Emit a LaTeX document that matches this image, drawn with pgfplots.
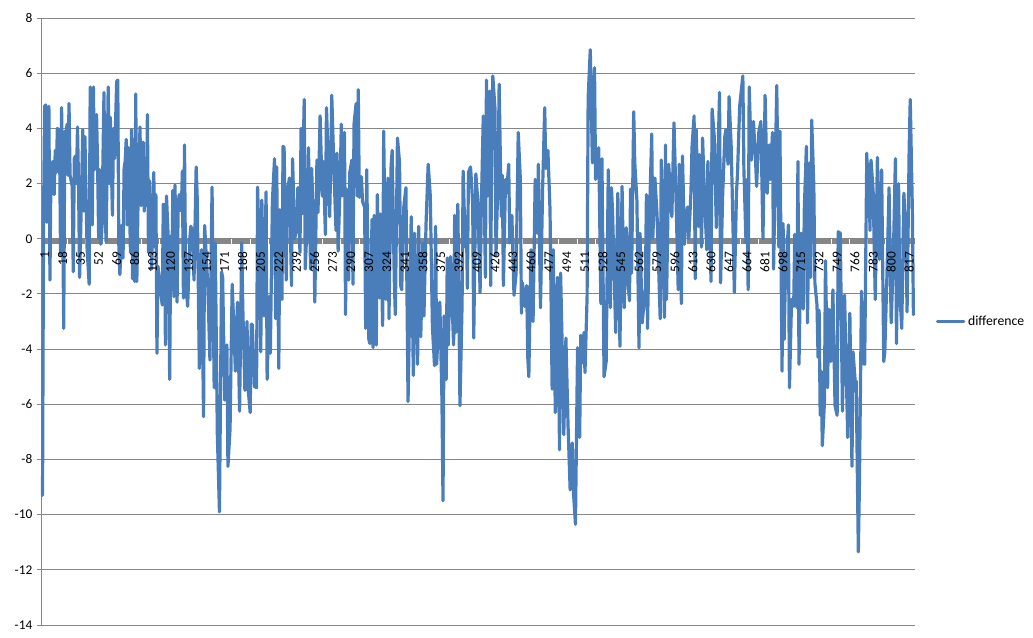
\documentclass[border=0pt]{standalone}
\usepackage{pgfplots}
\pgfplotsset{compat=1.18}
\usepackage{fontspec}
\setmainfont{Carlito}
\definecolor{linecol}{HTML}{4A7EBB}
\definecolor{axcol}{HTML}{868686}
\pgfplotsset{frame/.style={
    at={(31.5pt,9pt)}, anchor=south west,
    scale only axis, width=654.75pt, height=455.25pt,
    xmin=0.5, xmax=824.5, ymin=-14, ymax=8,
    tick label style={font=\fontsize{10}{12}\selectfont, black},
    /pgf/number format/assume math mode=true,
    clip=false,
}}
\begin{document}
\begin{tikzpicture}
% 1 px of the reference = 0.75pt
\useasboundingbox (0,0) rectangle (774.75pt,477.75pt);
\begin{axis}[
    frame,
    axis x line=middle, axis y line=left,
    axis line style={-, axcol, line width=0.75pt},
    tick align=outside,
    ytick={-14,-12,...,8},
    xtick={1,18,...,817}, xticklabels={},
    minor xtick={1,2,...,24,26,27,...,41,43,44,...,58,60,61,...,75,77,78,...,93,95,96,...,110,112,113,...,127,129,130,...,144,146,147,...,161,163,164,...,178,180,181,...,196,198,199,...,213,215,216,...,230,232,233,...,247,249,250,...,264,266,267,...,281,283,284,...,299,301,302,...,316,318,319,...,333,335,336,...,350,352,353,...,367,369,370,...,384,386,387,...,402,404,405,...,419,421,422,...,436,438,439,...,453,455,456,...,470,472,473,...,487,489,490,...,505,507,508,...,522,524,525,...,539,541,542,...,556,558,559,...,573,575,576,...,590,592,593,...,608,610,611,...,625,627,628,...,642,644,645,...,659,661,662,...,676,678,679,...,693,695,696,...,711,713,714,...,728,730,731,...,745,747,748,...,762,764,765,...,779,781,782,...,796,798,799,...,814,816,817,...,824},
    major tick length=3.75pt, minor tick length=3.75pt,
    major x tick style={draw=none},
    minor tick style={axcol, line width=0.8pt},
    ytick style={axcol, line width=0.75pt},
    ymajorgrids, grid style={axcol, line width=0.75pt},
    legend style={at={(1.0235,0.4995)}, anchor=west, draw=none, fill=none,
        font=\fontsize{10.3}{12}\selectfont, inner sep=0pt, row sep=0pt},
    legend cell align=left,
    legend image code/.code={\draw[#1, line width=2.25pt] (0pt,0pt) -- (20pt,0pt);},
]
\addplot[linecol, line width=2.4pt, line join=round, line cap=round] coordinates {
(1,-9.3)(2,1.0)(3,4.8)(4,4.85)(5,0.6)(6,2.0)(7,4.8)(8,-1.5)(9,2.7)(11,2.8)(12,1.6)(13,3.2)(14,2.4)(15,4.0)(17,3.9)(18,-0.6)(19,4.75)(20,1)(21,-3.25)(22,3.9)(23,2.4)(24,4.15)(25,2.3)(26,4.9)(27,2.3)(29,1.9)(30,-1.2)(31,2.9)(32,3.0)(33,2.0)(34,4.05)(35,2.0)(36,-1.4)(37,0.2)(39,3.95)(40,1.0)(41,3.7)(43,-0.3)(45,-1.65)(46,5.5)(47,1.0)(48,0.5)(49,5.5)(50,2.5)(52,4.5)(53,2.6)(54,0.0)(55,2.5)(56,-0.2)(57,0.3)(59,5.3)(60,1.2)(61,-0.1)(63,5.5)(64,2.0)(65,4.4)(67,0.85)(68,4.0)(69,2.9)(71,5.7)(72,5.75)(73,-0.2)(74,-1.3)(76,0.5)(77,-0.7)(78,2.55)(79,2.8)(80,3.6)(81,0.5)(82,3.3)(84,-0.5)(85,3.95)(86,-1.45)(87,3.6)(88,-1.55)(89,5.25)(90,-1.55)(91,1)(93,4.05)(94,1.2)(96,3.5)(97,1)(98,2.1)(99,1.2)(100,4.5)(101,-0.5)(102,2.1)(104,-1.1)(105,0.5)(106,2.4)(107,-0.3)(108,1.6)(109,-4.15)
(110,-1.0)(112,-1.8)(114,-2.4)(115,1.25)(116,1.2)(117,-3.85)(118,1.55)(120,-0.3)(121,-5.1)(122,0.1)(123,-1.4)(124,1.75)(125,-2.1)(126,1.95)(128,-2.3)(129,1.2)(130,1.6)(132,1.0)(133,2.45)(134,-2.15)(135,3.4)(136,-1.2)(137,-2)(138,-2.45)(140,0)(141,0.45)(142,0.35)(144,-1.5)(146,2.6)(147,1.5)(149,-4.7)(151,-0.4)
(153,-6.45)(154,0.48)(157,-1.7)(159,-4.4)(161,1.87)(163,-5.4)(164,-0.15)(166,-7.1)(168,-9.9)(170,-1.2)(171,-1.4)(173,-5.85)(175,-3.85)(176,-8.25)(178,-6.9)(180,-1.65)(182,-3.65)(183,-4.8)(185,-2.3)(187,-6.25)(189,-0.15)(190,-2.45)(192,-5.5)(194,-3)(195,-5.4)(197,-6.3)(198,-3.1)(199,-3.1)(201,-5.35)(203,-5.4)(204,1.87)(206,-1.1)(207,-4.1)(208,1.4)(210,-2.8)(212,1.7)(213,-5.1)(215,-2.1)(216,-4.15)(218,1.4)(220,2.9)(221,-2.9)(222,2.6)(224,-4.7)(225,1.05)(227,-2.2)(228,3.35)(229,3.3)(231,-1.5)(232,1.65)(234,2.2)(236,-1.7)(237,2.9)(239,0)(241,0.4)(242,1.85)(244,-0.5)(245,4.0)(246,0.9)(248,5.05)(249,-1.1)(251,0.9)(252,3.3)(254,-1.1)(255,2.55)(257,0.2)(258,-2.3)(260,2.85)(261,0.95)(263,4.45)(265,1.55)(266,2.8)(268,0.15)(269,4.75)(270,3.6)(272,0.8)(273,2.6)(274,5.2)(276,2.55)(278,0.3)(279,3.1)(280,-0.45)(282,2.15)(283,4.15)(284,1.55)(286,3.85)(287,-2.75)(288,1.8)(290,-1.5)(291,2.4)(293,2.85)(294,-1.65)(295,4.15)(297,4.9)(298,1.55)(299,5.4)(300,1.5)(302,2.25)(303,1.35)(305,1.15)(306,-3.25)(307,2.5)(309,-3.65)(310,-3.8)(312,0.7)(313,-3.95)(314,0.85)(316,-3.85)(317,1.6)(319,-2.15)(320,0.9)(322,-3.15)(323,3.9)(325,-2.2)(327,2.2)(328,-2.9)(330,2.6)(331,3.2)(333,-1.5)(334,-2.75)(336,3.65)(338,2.75)(339,-1.7)(340,-1.85)(342,1.15)(344,1.85)(346,-5.9)(349,0.8)(351,-4.95)(352,0.2)(355,-4.55)(356,0.45)(358,-3.55)(360,-0.15)(361,-2.8)(363,0.55)(365,2.7)(367,1.55)
(369,-3.2)(371,-4.6)(372,0.45)(373,-4.55)(375,-2.9)(376,-2.3)(378,-5.85)(379,-9.5)(380,-2.8)(382,-5.1)(383,-0.7)(384,-3.85)(386,-0.65)(389,-3.85)(390,0.85)(391,-3.4)(393,1.25)(395,-6.05)(397,-2.35)(398,2.45)(400,-0.3)(401,0.8)(402,-1.8)(403,2.4)(405,2.6)(407,1.3)(408,-3.6)(410,2.35)(412,1.3)(414,-1.95)(415,0.8)(417,4.45)(419,-1.4)(420,5.75)(421,1.55)(423,5.35)(424,-1.7)(425,3.7)(426,5.9)(428,4.75)(429,-0.6)(431,2.4)(432,5.6)(434,0.8)(435,2.3)(436,-1.7)(438,2.15)(439,1.65)(441,2.7)(442,-0.15)(444,0.85)(446,-2.05)(448,-1.25)(450,3.85)(452,2.15)(453,-2.7)(454,-1.6)(456,-2.45)(458,-1.7)(459,-4.3)(460,-5)(462,-0.4)(464,-3)(466,2.15)(468,0.2)(469,2.7)(471,-2.5)(473,1.8)(475,4.75)(476,2.55)(478,3.2)(480,1.05)(482,-5.45)(483,-0.4)(485,-6.3)(487,-1.4)(489,-7.65)(490,-1.25)(492,-4.85)(493,-7.1)(495,-3.6)(497,-6.75)(499,-9.1)(501,-7.4)(502,-9.1)(504,-10.35)(506,-3.95)(508,-7.2)(509,-3.5)(511,-4.5)(512,-3.4)(513,-4.85)(515,-2.1)(516,5.1)(518,6.85)(520,2.75)(522,6.2)(523,2.15)(525,2.75)(526,3.3)(528,-2.35)(529,2.9)(531,-5)(533,-4.45)(535,2.5)(537,-2.5)(538,1.85)(539,1)(542,-3.4)(544,1.65)(546,-3.9)(548,1.9)(550,-2.5)(552,0.4)(553,-1.25)(555,-2.25)(556,1.8)(557,-1.25)(559,4.6)(560,2.75)(562,1.4)(564,-3.95)(565,0.2)(567,-3.05)(570,-1.8)(571,1.6)(572,-3.25)(574,0.9)(576,3.8)(577,0)(579,2.2)(581,0.9)
(584,-2.9)(585,2.85)(588,-2.85)(589,3.4)(590,-2.2)(592,2.7)(595,0.8)(597,4.2)(599,1.35)(601,-1.85)(602,2.7)(604,-2.35)(605,3)(607,-0.2)(608,0.7)(610,1.15)(611,0)(613,1.65)(614,3.3)(616,4.45)(617,-1.45)(618,3.95)(620,0.45)(621,3.05)(623,-0.3)(624,3.65)(626,1.3)(628,-0.4)(629,2.8)(632,-1.55)(633,4.7)(635,3.7)(637,0.4)(640,5.3)(641,-1.6)(643,1.65)(645,3.7)(646,3.95)(648,2.7)(649,5.15)(651,3.35)(652,1.65)(654,-1.95)(656,1.65)(657,2.4)(659,4.8)(662,5.9)(663,2.5)(665,-0.15)(666,2.15)(667,-1.85)(668,5.5)(670,2.85)(672,4.25)(674,2.85)(675,1.9)(677,3.85)(679,4.25)(681,0)(683,5.2)(685,1.65)(687,3.4)(688,2.15)(690,3.85)(691,-1.1)(694,5.55)(696,-0.3)(697,3.9)(699,-4.8)(700,0.55)(701,-3.65)(702,-1.7)(705,0.5)(706,-5.4)(708,-2.2)(710,-2.45)(711,0.15)(713,-2.5)(714,2.8)(715,-4.55)(717,0.2)(719,-2.55)(720,1.05)(722,3.35)(723,-3.05)(725,2.75)(726,-1.4)(727,4.3)(729,1.9)(730,-1.6)(732,-2.4)(733,-4.3)(734,-2.6)(735,-6.4)(736,-4.8)(737,-7.5)(739,-5.95)(740,-0.8)(742,-5.4)(743,-2.55)(745,-4.45)(747,-1.85)(749,-6.05)(751,-6.4)(752,0.25)(754,0.2)(756,-6.25)(758,-2.05)(761,-7.2)(763,-2.7)(765,-8.25)(766,-4.1)(768,-5.15)(769,-5.15)(771,-11.35)(772,-9)(774,-1.9)(775,-4.5)(777,-4.55)(779,3.1)(780,1.1)(781,2.7)(782,0.3)(783,2.85)(785,1.7)(787,-2.2)(789,2.95)(791,-0.75)(793,2.5)(795,-4.45)(796,-4.1)(798,-1.35)(800,1.85)(802,-3.05)(804,-0.75)(806,2.9)(807,-3.8)(809,2)(810,-1.85)(812,-3.25)(814,1.65)(816,0)(817,-2.65)(819,3.3)(820,5.05)(822,1.05)(823,-2.75)
};
\legend{difference}
\end{axis}
% second axis with the same frame: only the x tick labels, set above the series
\begin{axis}[
    frame,
    axis x line=middle, axis y line=none,
    axis line style={draw=none},
    tick style={draw=none}, tick align=outside,
    major tick length=3.75pt,
    xtick={1,18,...,817}, ytick=\empty,
    xticklabel style={rotate=90, anchor=east, yshift=-1.5pt, xshift=-2.5pt},
]
\end{axis}
\end{tikzpicture}
\end{document}
